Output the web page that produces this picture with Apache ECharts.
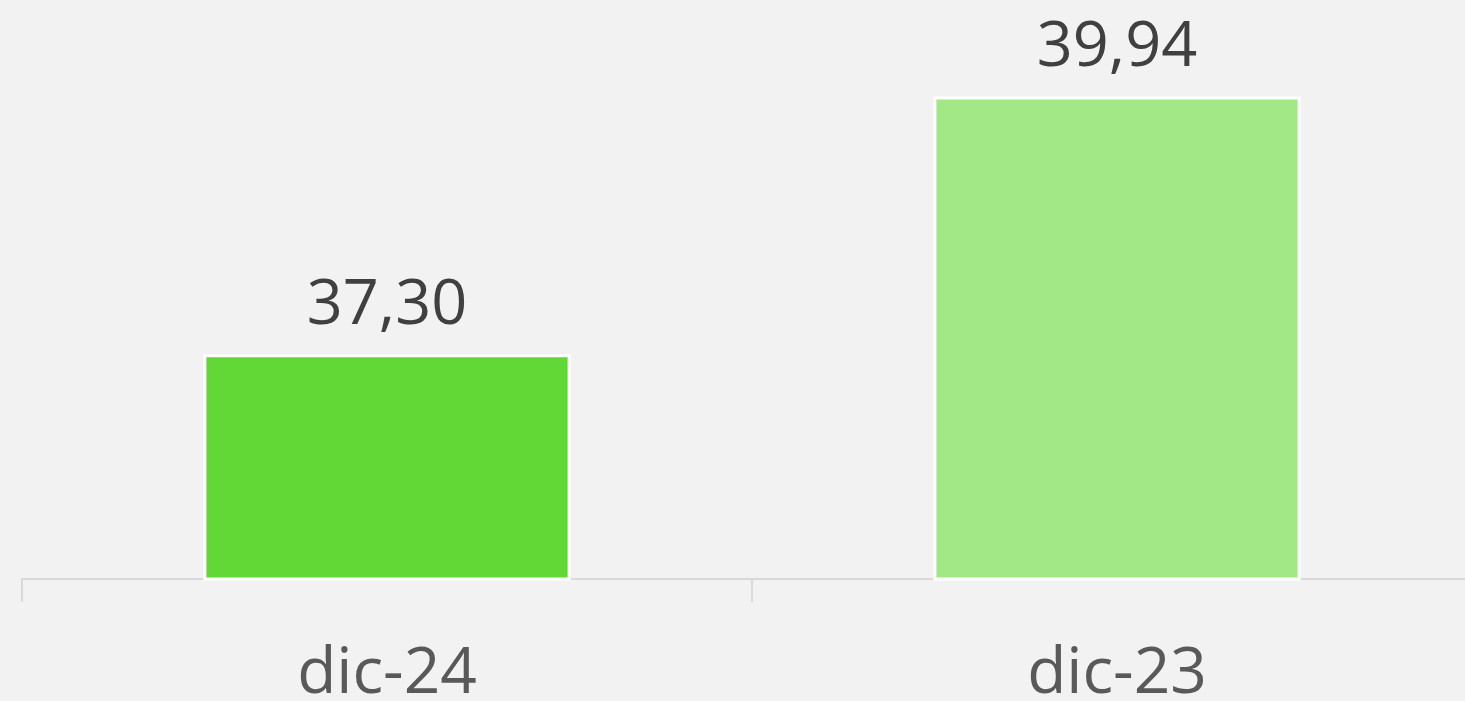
<!DOCTYPE html>
<html><head><meta charset="utf-8">
<script src="https://cdn.jsdelivr.net/npm/echarts@6/dist/echarts.min.js"></script>
<style>html,body{margin:0;padding:0;background:#f2f2f2;}#c{width:1465px;height:701px;}</style>
</head><body><div id="c"></div>
<script>
const categories = ['dic-24', 'dic-23'];
const values = [37.30, 39.94];
const barColors = ['#62d836', '#a2e886'];

const chart = echarts.init(document.getElementById('c'));
chart.setOption({
  backgroundColor: '#f2f2f2',
  animation: false,
  grid: { left: 22, width: 1460, top: -7, height: 586, containLabel: false, outerBoundsMode: 'none' },
  xAxis: {
    type: 'category', data: categories,
    axisLine: { lineStyle: { color: '#d9d9d9', width: 2 } },
    axisTick: { show: true, length: 23, lineStyle: { color: '#d9d9d9', width: 2 } },
    axisLabel: { color: '#595959', fontSize: 64, fontFamily: 'Open Sans', margin: 64 }
  },
  yAxis: { type: 'value', min: 35, max: 41, show: false, splitLine: { show: false } },
  series: [{
    type: 'bar', barWidth: '50.3%',
    data: values.map((v, i) => ({ value: v, itemStyle: { color: barColors[i] } })),
    itemStyle: { borderColor: '#ffffff', borderWidth: 3 },
    label: {
      show: true, position: 'top', distance: 17, color: '#404040', fontSize: 63, fontFamily: 'Open Sans',
      formatter: p => p.value.toFixed(2).replace('.', ',')
    }
  }]
});
</script></body></html>
